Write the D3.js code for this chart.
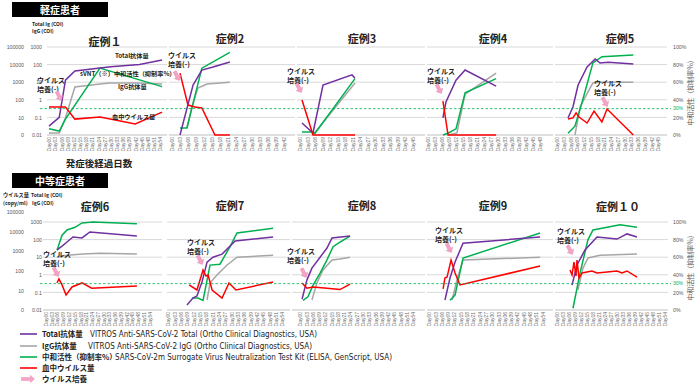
<!DOCTYPE html>
<html><head><meta charset="utf-8">
<script src="https://cdn.jsdelivr.net/npm/d3@7/dist/d3.min.js"></script>
<style>
body{margin:0;background:#fff;}
svg{font-family:"Noto Sans CJK JP","Noto Sans",sans-serif;}
</style></head><body>
<svg id="chart" width="700" height="390"></svg>
<script>
// ---------- tick labels ----------
const ticks54 = ["Day00","Day03","Day06","Day09","Day12","Day15","Day18","Day21","Day24","Day27","Day30","Day33","Day36","Day39","Day42","Day45","Day48","Day51","Day54"];
const ticks42 = ["Day00","Day03","Day06","Day09","Day12","Day15","Day18","Day21","Day24","Day27","Day30","Day33","Day36","Day39","Day42"];
const ticks45 = ["Day00","Day03","Day06","Day09","Day12","Day15","Day18","Day21","Day24","Day27","Day30","Day33","Day36","Day39","Day42","Day45"];
const ticks48 = ["Day00","Day03","Day06","Day09","Day12","Day15","Day18","Day21","Day24","Day27","Day30","Day33","Day36","Day39","Day42","Day45","Day48"];
const virusTicks = [100000,10000,1000,100,10,1];
const virusTickLabels = ["100000","10000","1000","100","10","0"];
const coiTicks = [1000,100,10,1,0.1,0.01];
const coiTickLabels = ["1000","100","10","1","0.1","0.01"];
const pctTicks = [100,80,60,40,20,0];
const pctTickLabels = ["100%","80%","60%","40%","20%","0%"];
const cutoffPct = 30;

// ---------- data: [day, value] ----------
// Total / IgG in COI, sVNT in %, virus in copy/ml
const c1Total = [[0,0.032],[5,0.1],[8,13],[12.6,43],[30,75],[44,100],[55,180]];
const c1IgG   = [[0,0.013],[5,0.013],[8,0.093],[12.6,5.3],[24.8,7.9],[29.6,9],[44,9],[55,7.9]];
const c1sVNT  = [[0,7],[5,4.5],[8,18],[24.8,76],[55,55]];
const c1Virus = [[0,39],[5,39],[8,39],[12.6,8],[24.8,10.5],[42,4.2],[55,20]];

const c2Total = [[3,0.01],[7.9,6.9],[11.2,49],[15.4,73],[21.7,140]];
const c2IgG   = [[5.6,0.025],[7.5,0.39],[9.7,4.7],[13.1,7.9],[21.7,10]];
const c2sVNT  = [[3,8],[5.6,8],[7.9,36],[11.2,76],[21.7,94]];
const c2Virus = [[3,3300],[6,50],[8.6,39],[11.2,34],[16.1,1],[21.7,1]];

const c3Total = [[0.8,0.048],[5.2,0.013],[9.2,6.9],[20.8,26],[22,17]];
const c3IgG   = [[5.2,0.01],[22,9]];
const c3sVNT  = [[0.8,3.4],[4.8,3.4],[6,2],[22,64]];
const c3Virus = [[0.8,98],[5.2,1],[22,1]];

const c4Total = [[6.4,0.093],[7.7,0.75],[12,13],[15.9,49],[29.2,6]];
const c4IgG   = [[8.6,0.01],[12.4,0.013],[15.9,2.1],[29.2,33]];
const c4sVNT  = [[6.4,0],[8.6,2],[12,7],[15.9,48],[29.2,64]];
const c4Virus = [[6.4,85],[8.6,1],[29.2,1]];

const c5Total = [[4.9,0.093],[7.1,0.39],[9.4,6.9],[13.4,73],[17,210],[19.2,123],[22.8,135],[34,107]];
const c5IgG   = [[8,0.01],[10.3,0.39],[13.8,2.8],[16,9],[19.2,10],[34,10]];
const c5sVNT  = [[4.9,2],[8,10],[11.2,37.5],[16,82],[20,89],[34,91]];
const c5Virus = [[4.9,8.1],[7.1,9.3],[8.5,18],[9.8,10.5],[13.4,4.8],[16.5,23],[20,5.5],[22.3,30],[34,1]];

const c6Total = [[5.9,26],[8.5,43],[11.1,73],[14.2,140],[18.9,124],[23,270],[47.5,160]];
const c6IgG   = [[5.9,10.5],[11.1,13],[19.4,15],[28.3,17],[47.5,15]];
const c6sVNT  = [[5.9,68],[8.5,85],[11.1,91],[15.3,94],[18.9,99],[24.6,100],[47.5,98]];
const c6Virus = [[5.9,24],[6.9,38],[8.5,19],[10.6,5.8],[13.7,15],[18.9,24],[24,13],[47.5,17]];

const c7Total = [[9,0.019],[11.8,0.048],[13.7,0.063],[16.1,0.39],[18.5,5.3],[21.3,10],[25.6,15],[31.8,83],[49.8,140]];
const c7IgG   = [[18.5,0.037],[19.9,0.34],[23.2,0.98],[28,3.6],[32.7,10],[49.8,13]];
const c7sVNT  = [[11.4,13.6],[14.2,13.6],[16.6,11],[19.9,51],[24.6,52],[29.4,72],[32.7,87.5],[49.8,93]];
const c7Virus = [[10,19],[13.7,10.5],[16.6,110],[18,54],[19,61],[20.9,10.5],[25.6,4.1],[28.9,24],[32.2,10.5],[49.8,27]];

const c8Total = [[1,0.042],[3.3,0.5],[5.7,2.4],[9.6,10],[12.9,33],[15.3,123],[23.9,160]];
const c8IgG   = [[5.7,0.037],[8.1,0.34],[11,1.9],[15.3,6.9],[19.1,8],[23.9,10]];
const c8sVNT  = [[1.4,11],[3.8,15],[6.2,28],[9.6,42],[12.9,57],[15.8,72],[19.1,77],[23.9,84]];
const c8Virus = [[1,24],[3.3,13],[6.2,15],[12.9,13],[19.1,11],[23.9,21]];

const c9Total = [[7.6,0.037],[10,0.66],[12.4,5.3],[16.2,63],[52.9,140]];
const c9IgG   = [[11,0.037],[13.3,0.5],[16.2,6.9],[52.9,10]];
const c9sVNT  = [[10,11],[12.4,17],[16.2,59],[52.9,87.5]];
const c9Virus = [[6.7,12],[7.6,43],[8.6,48],[10.5,355],[12.4,77],[14.8,19],[52.9,175]];

const c10Total = [[7.5,0.26],[10,3.6],[14,26],[20,140],[30,107],[35,210],[40,140]];
const c10IgG   = [[10.5,0.14],[13,2.4],[15.5,9],[21.5,13],[40,15]];
const c10sVNT  = [[8,2],[11.5,42],[15.5,80],[18,91],[31.5,97],[40,94]];
const c10Virus = [[6.5,110],[7.5,61],[8.5,280],[9.5,54],[10,355],[11,43],[12.5,77],[17.5,98],[20,77],[30,98],[32.5,77],[35,98],[40,48]];

const caseTitles = ["症例１","症例2","症例3","症例4","症例5","症例6","症例7","症例8","症例9","症例１０"];
const legendLabels = ["Total抗体量","IgG抗体量","中和活性（抑制率%）","血中ウイルス量","ウイルス培養"];
const legendDescs = ["VITROS Anti-SARS-CoV-2 Total (Ortho Clinical Diagnostics, USA)","VITROS Anti-SARS-CoV-2 IgG (Ortho Clinical Diagnostics, USA)","SARS-CoV-2m Surrogate Virus Neutralization Test Kit (ELISA, GenScript, USA)","",""];

// ---------- layout ----------
const COL = {total:"#7030a0", igg:"#a6a6a6", svnt:"#00b050", virus:"#ff0000"};
const rows = [{top:47,bottom:135,vTop:47},{top:222,bottom:310,vTop:212}];
const panels = [
 {row:0, gx:[47,167], tx:[49,160], ticks:ticks54, s:[c1Total,c1IgG,c1sVNT,c1Virus], title:[105,42], ann:[37,81,59,96]},
 {row:0, gx:[169,295], tx:[172,284], ticks:ticks42, s:[c2Total,c2IgG,c2sVNT,c2Virus], title:[230,39], ann:[168,56,177,76]},
 {row:0, gx:[297,425], tx:[300,412.5], ticks:ticks45, s:[c3Total,c3IgG,c3sVNT,c3Virus], title:[362,39], ann:[287,72,299,88]},
 {row:0, gx:[427,553], tx:[428,540], ticks:ticks48, s:[c4Total,c4IgG,c4sVNT,c4Virus], title:[493,39], ann:[427,72,439,89]},
 {row:0, gx:[555,667], tx:[557,658], ticks:ticks45, s:[c5Total,c5IgG,c5sVNT,c5Virus], title:[620,39], ann:[594,84,605,102]},
 {row:1, gx:[43,162], tx:[45.7,149.4], ticks:ticks54, s:[c6Total,c6IgG,c6sVNT,c6Virus], title:[95,207], ann:[43,255,56,272]},
 {row:1, gx:[167,290], tx:[168,282], ticks:ticks54, s:[c7Total,c7IgG,c7sVNT,c7Virus], title:[230,206], ann:[187,243,200,260]},
 {row:1, gx:[292,425], tx:[300,413], ticks:ticks54, s:[c8Total,c8IgG,c8sVNT,c8Virus], title:[362,206], ann:[287,252,304,273]},
 {row:1, gx:[427,553], tx:[429,542.4], ticks:ticks54, s:[c9Total,c9IgG,c9sVNT,c9Virus], title:[493,206], ann:[435,231,449,248]},
 {row:1, gx:[555,668], tx:[557,665], ticks:ticks54, s:[c10Total,c10IgG,c10sVNT,c10Virus], title:[618,207], ann:[557,232,570,250]}
];

const svg = d3.select("#chart");
const dayOf = l => +l.slice(3);
const AX = "#595959";

function arrowPath(len){
  const h=len/2;
  return `M${-h},-1.6L${h-4},-1.6L${h-4},-3.6L${h},0L${h-4},3.6L${h-4},1.6L${-h},1.6Z`;
}
function drawArrow(cx,cy,angle,len){
  svg.append("path").attr("d",arrowPath(len))
    .attr("transform",`translate(${cx},${cy}) rotate(${angle})`)
    .attr("fill","#f5a3c7").attr("stroke","#e48ab2").attr("stroke-width",0.5);
}

rows.forEach(r=>{
  r.coi = d3.scaleLog().domain([0.01,1000]).range([r.bottom,r.top]);
  r.pct = d3.scaleLinear().domain([0,100]).range([r.bottom,r.top]);
  r.vir = d3.scaleLog().domain([1,100000]).range([r.bottom,r.vTop]);
});

panels.forEach((p,i)=>{
  const r = rows[p.row];
  const x = d3.scaleLinear().domain([0,dayOf(p.ticks[p.ticks.length-1])]).range(p.tx);
  const g = svg.append("g");
  g.selectAll("line.grid").data(coiTicks).join("line")
    .attr("x1",p.gx[0]).attr("x2",p.gx[1])
    .attr("y1",d=>r.coi(d)).attr("y2",d=>r.coi(d))
    .attr("stroke",d=>d===0.01?"#bfbfbf":"#d9d9d9").attr("stroke-width",1);
  const ax = g.append("g").attr("transform",`translate(0,${r.bottom})`)
    .call(d3.axisBottom(x).tickValues(p.ticks.map(dayOf)).tickSize(0)
      .tickFormat(d=>p.ticks.find(l=>dayOf(l)===d)));
  ax.select(".domain").remove();
  ax.selectAll("text").attr("transform","rotate(-90)").attr("text-anchor","end")
    .attr("x",-2).attr("y",0).attr("dy","0.35em")
    .attr("font-size",5).attr("fill","#6f6f6f").attr("font-family","Liberation Sans, Arial, sans-serif");
  const mk = sc => d3.line().x(d=>x(d[0])).y(d=>sc(d[1]));
  const [tot,igg,sv,vir] = p.s;
  g.append("path").datum(igg).attr("d",mk(r.coi)).attr("fill","none").attr("stroke",COL.igg).attr("stroke-width",1.5);
  g.append("path").datum(sv).attr("d",mk(r.pct)).attr("fill","none").attr("stroke",COL.svnt).attr("stroke-width",1.5);
  g.append("path").datum(tot).attr("d",mk(r.coi)).attr("fill","none").attr("stroke",COL.total).attr("stroke-width",1.5);
  g.append("path").datum(vir).attr("d",mk(r.vir)).attr("fill","none").attr("stroke",COL.virus).attr("stroke-width",1.5);
  svg.append("text").attr("x",p.title[0]).attr("y",p.title[1]+4).attr("text-anchor","middle")
    .attr("font-size",11).attr("font-weight","bold").attr("fill","#222").text(caseTitles[i]);
  const [tx,ty,axp,ayp] = p.ann;
  svg.append("text").attr("x",tx).attr("y",ty+2.4).attr("font-size",7).attr("font-weight","bold")
    .attr("fill","#222").text("ウイルス");
  svg.append("text").attr("x",tx).attr("y",ty+10.8).attr("font-size",7).attr("font-weight","bold")
    .attr("fill","#222").text("培養(-)");
  drawArrow(axp,ayp,62,10);
});

rows.forEach((r,ri)=>{
  svg.append("line").attr("x1",40).attr("x2",671)
    .attr("y1",r.pct(cutoffPct)).attr("y2",r.pct(cutoffPct))
    .attr("stroke","#00b050").attr("stroke-width",0.8).attr("stroke-dasharray","2.5,2");
  const a1 = svg.append("g").attr("transform",`translate(24,0)`)
    .call(d3.axisLeft(r.vir).tickValues(virusTicks).tickSize(0).tickPadding(0)
      .tickFormat(d=>virusTickLabels[virusTicks.indexOf(d)]));
  const a2 = svg.append("g").attr("transform",`translate(42,0)`)
    .call(d3.axisLeft(r.coi).tickValues(coiTicks).tickSize(0).tickPadding(0)
      .tickFormat(d=>coiTickLabels[coiTicks.indexOf(d)]));
  const a3 = svg.append("g").attr("transform",`translate(672,0)`)
    .call(d3.axisRight(r.pct).tickValues(pctTicks).tickSize(0).tickPadding(1)
      .tickFormat(d=>pctTickLabels[pctTicks.indexOf(d)]));
  [a1,a2,a3].forEach(a=>{
    a.select(".domain").remove();
    a.selectAll("text").attr("font-size",5.2).attr("fill",AX).attr("font-family","Liberation Sans, Arial, sans-serif");
  });
  svg.append("text").attr("x",673).attr("y",r.pct(cutoffPct)+1.8).attr("font-size",5)
    .attr("fill","#00b050").attr("font-family","Liberation Sans, Arial, sans-serif").text("30%");
  const cy = (r.top+r.bottom)/2;
  svg.append("text").attr("transform",`translate(691,${cy}) rotate(-90)`).attr("text-anchor","middle")
    .attr("dy","0.35em").attr("font-size",7).attr("fill",AX).text("中和活性（抑制率%）");
});

[["軽症患者",2],["中等症患者",173]].forEach(([t,y])=>{
  svg.append("rect").attr("x",12).attr("y",y).attr("width",96).attr("height",15).attr("fill","#000");
  svg.append("text").attr("x",60).attr("y",y+11.5).attr("text-anchor","middle").attr("fill","#fff")
    .attr("font-size",10).attr("font-weight","bold").text(t);
});

const small = (x,y,t,fs=5,fw="bold") => svg.append("text").attr("x",x).attr("y",y).attr("font-size",fs)
  .attr("font-weight",fw).attr("fill","#222").text(t);
small(32,26,"Total Ig (COI)");
small(32,33,"IgG (COI)");
small(3,197,"ウイルス量",5.2);
small(3,205,"(copy/ml)",5.2);
small(31,197,"Total Ig (COI)");
small(32,205,"IgG (COI)");
svg.append("text").attr("x",99).attr("y",167).attr("text-anchor","middle").attr("font-size",9.5)
  .attr("font-weight","bold").attr("fill","#222").text("発症後経過日数");

small(115,57.5,"Total抗体量",6.2);
small(80,75.5,"sVNT（※）中和活性（抑制率%）",6.2);
small(118,88.5,"IgG抗体量",6.2);
small(112,118.5,"血中ウイルス量",6.2);

const legY = [334,346,357,368,379];
const legCol = [COL.total,COL.igg,COL.svnt,COL.virus];
const descX = [90,88,115];
const descW = [227,224,277];
legendLabels.forEach((l,i)=>{
  const y = legY[i];
  if(i<4){
    svg.append("line").attr("x1",20).attr("x2",37).attr("y1",y).attr("y2",y)
      .attr("stroke",legCol[i]).attr("stroke-width",1.6);
  } else {
    svg.append("path").attr("d",arrowPath(13)).attr("transform",`translate(28,${y})`)
      .attr("fill","#f5a3c7").attr("stroke","#e48ab2").attr("stroke-width",0.5);
  }
  svg.append("text").attr("x",42).attr("y",y+3).attr("font-size",7.5).attr("font-weight","bold")
    .attr("fill","#222").text(l);
  if(legendDescs[i]){
    svg.append("text").attr("x",descX[i]).attr("y",y+3).attr("font-size",8)
      .attr("textLength",descW[i]).attr("lengthAdjust","spacingAndGlyphs")
      .attr("font-family","DejaVu Sans, Verdana, sans-serif").attr("fill","#222").text(legendDescs[i]);
  }
});
</script>
</body></html>
